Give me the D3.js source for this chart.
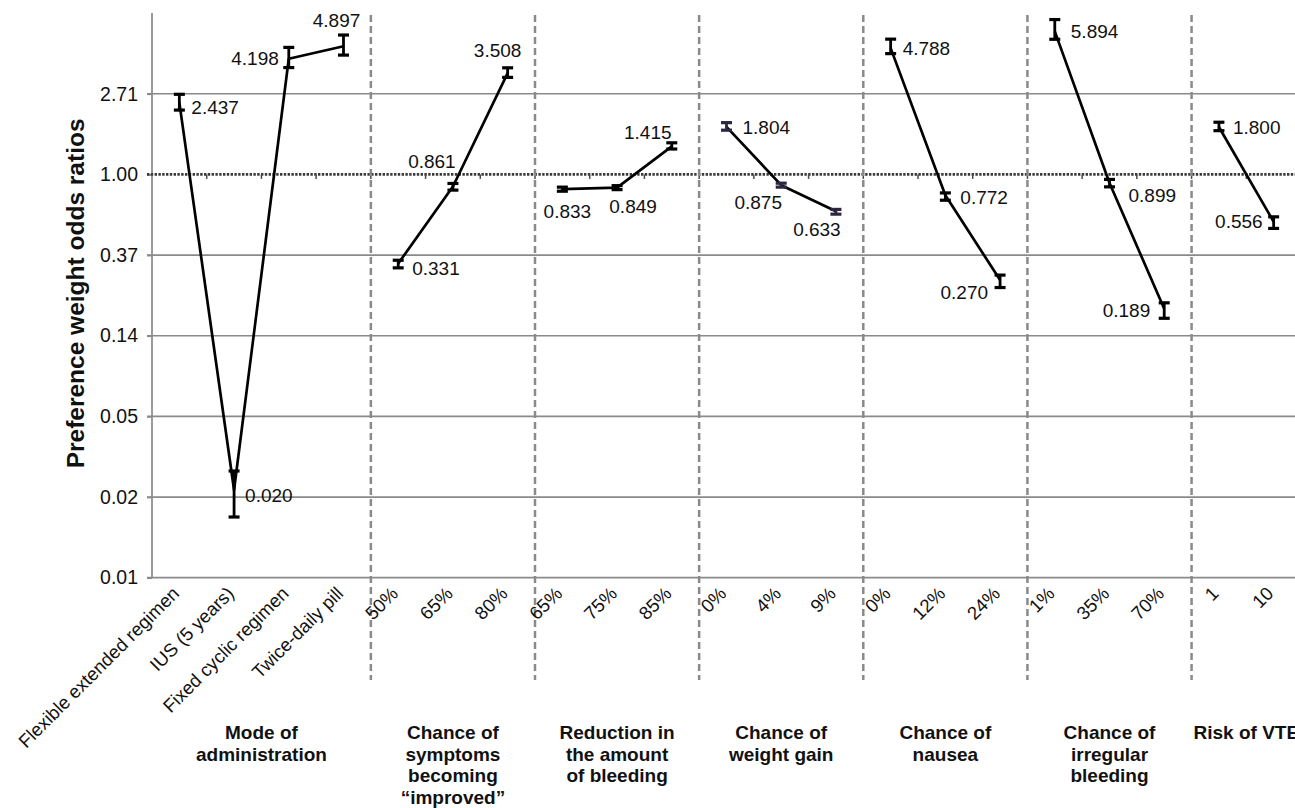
<!DOCTYPE html>
<html>
<head>
<meta charset="utf-8">
<script src="https://cdn.jsdelivr.net/npm/d3@7"></script>
<style>
  html, body { margin: 0; padding: 0; background: #fff; }
  svg { display: block; font-family: "Liberation Sans", Arial, sans-serif; }
</style>
</head>
<body>
<svg id="chart" width="1295" height="808"></svg>
<script>
// Attribute groups (titles drawn under the axis, one line per entry)
const groupTitles = [
  ["Mode of", "administration"],
  ["Chance of", "symptoms", "becoming", "\u201Cimproved\u201D"],
  ["Reduction in", "the amount", "of bleeding"],
  ["Chance of", "weight gain"],
  ["Chance of", "nausea"],
  ["Chance of", "irregular", "bleeding"],
  ["Risk of VTE"]
];

// Levels within each attribute
const levelLabels = [
  ["Flexible extended regimen", "IUS (5 years)", "Fixed cyclic regimen", "Twice-daily pill"],
  ["50%", "65%", "80%"],
  ["65%", "75%", "85%"],
  ["0%", "4%", "9%"],
  ["0%", "12%", "24%"],
  ["1%", "35%", "70%"],
  ["1", "10"]
];

// Preference weight odds ratios
const oddsRatios = [
  [2.437, 0.020, 4.198, 4.897],
  [0.331, 0.861, 3.508],
  [0.833, 0.849, 1.415],
  [1.804, 0.875, 0.633],
  [4.788, 0.772, 0.270],
  [5.894, 0.899, 0.189],
  [1.800, 0.556]
];

// Confidence interval bounds
const ciLower = [
  [2.22, 0.0143, 3.76, 4.39],
  [0.314, 0.823, 3.33],
  [0.812, 0.828, 1.37],
  [1.73, 0.854, 0.611],
  [4.47, 0.726, 0.246],
  [5.34, 0.857, 0.168],
  [1.72, 0.512]
];
const ciUpper = [
  [2.70, 0.0253, 4.83, 5.63],
  [0.345, 0.894, 3.75],
  [0.854, 0.870, 1.48],
  [1.90, 0.897, 0.648],
  [5.35, 0.795, 0.287],
  [6.82, 0.94, 0.2035],
  [1.91, 0.591]
];

// Y axis ticks (powers of e) and their printed labels
const yTickValues = [0.006738, 0.018316, 0.049787, 0.135335, 0.367879, 1, 2.718282];
const yTickLabels = ["0.01", "0.02", "0.05", "0.14", "0.37", "1.00", "2.71"];

// Value label placement around each point: [dx, dy, anchor]
const labelPlacement = [
  [[12, 5, "start"], [11, 5, "start"], [-10, 0, "end"], [-7, -26, "middle"]],
  [[14, 5, "start"], [-21, -25, "middle"], [-10, -23, "middle"]],
  [[5, 22, "middle"], [16, 19, "middle"], [-24, -14, "middle"]],
  [[16, 1, "start"], [-23, 17, "middle"], [-19, 18, "middle"]],
  [[12, 0, "start"], [15, 2, "start"], [-12, 12, "end"]],
  [[16, 0, "start"], [19, 12, "start"], [-14, 2, "end"]],
  [[14, 0, "start"], [-11, 0, "end"]]
];

const svg = d3.select("#chart");
const W = 1295;
const plotLeft = 152, plotRight = 1301, plotTop = 13.1, plotBottom = 577.7;

// Flatten levels into band keys
const points = [];
levelLabels.forEach((levels, g) => levels.forEach((lab, i) => {
  points.push({
    key: g + "-" + i, g, i, label: lab,
    v: oddsRatios[g][i], lo: ciLower[g][i], hi: ciUpper[g][i],
    place: labelPlacement[g][i]
  });
}));

const x = d3.scaleBand().domain(points.map(d => d.key)).range([plotLeft, plotRight]).padding(0);
const y = d3.scaleLog().domain([Math.exp(-5), Math.exp(2)]).range([plotBottom, plotTop]);
const cx = k => x(k) + x.bandwidth() / 2;

const gridColor = "#8a8a8a";

// Horizontal gridlines (solid), the 1.00 reference line is drawn dotted
svg.append("g").selectAll("line")
  .data(yTickValues.filter(v => v !== 1))
  .join("line")
  .attr("x1", plotLeft - 5).attr("x2", W)
  .attr("y1", d => y(d)).attr("y2", d => y(d))
  .attr("stroke", gridColor).attr("stroke-width", 1.7);

// Y axis with labels
const yAxis = d3.axisLeft(y)
  .tickValues(yTickValues)
  .tickFormat((d, i) => yTickLabels[i])
  .tickSize(5).tickPadding(9);
const gy = svg.append("g").attr("transform", `translate(${plotLeft},0)`).call(yAxis);
gy.select(".domain").attr("d", `M0,${plotTop}V${plotBottom}`).attr("stroke", gridColor).attr("stroke-width", 1.7);
gy.selectAll(".tick line").attr("stroke", gridColor).attr("stroke-width", 1.7);
gy.selectAll(".tick text").attr("font-size", 19.5).attr("fill", "#111")
  .attr("font-family", "'Liberation Sans', Arial, sans-serif");

// Category axis crossing at 1.00 (dotted, with ticks at band edges)
const y1 = y(1);
svg.append("line")
  .attr("x1", plotLeft - 5).attr("x2", W).attr("y1", y1).attr("y2", y1)
  .attr("stroke", "#3a3a3a").attr("stroke-width", 2.6).attr("stroke-dasharray", "2.4,1.4");
svg.append("g").selectAll("line")
  .data(points.slice(1).map(d => x(d.key)))
  .join("line")
  .attr("x1", d => d).attr("x2", d => d)
  .attr("y1", y1).attr("y2", y1 + 4.5)
  .attr("stroke", "#4a4a4a").attr("stroke-width", 1.5);

// Dashed separators between attribute groups
const sepX = levelLabels.slice(1).map((_, g) => x((g + 1) + "-0"));
svg.append("g").selectAll("line")
  .data(sepX)
  .join("line")
  .attr("x1", d => d).attr("x2", d => d)
  .attr("y1", 15).attr("y2", 680)
  .attr("stroke", gridColor).attr("stroke-width", 2.5).attr("stroke-dasharray", "7,4");

// Connecting lines per attribute
const line = d3.line().x(d => cx(d.key)).y(d => y(d.v));
svg.append("g").selectAll("path")
  .data(d3.groups(points, d => d.g).map(d => d[1]))
  .join("path")
  .attr("d", line)
  .attr("fill", "none").attr("stroke", "#000").attr("stroke-width", 2.7)
  .attr("stroke-linejoin", "round");

// Error bars
const eb = svg.append("g").selectAll("g").data(points).join("g")
  .attr("stroke", d => d.g === 3 ? "#2c2640" : "#000");
eb.append("line")
  .attr("x1", d => cx(d.key)).attr("x2", d => cx(d.key))
  .attr("y1", d => y(d.lo)).attr("y2", d => y(d.hi))
  .attr("stroke-width", 2.8);
eb.selectAll("line.cap").data(d => [[d, d.lo], [d, d.hi]]).join("line")
  .attr("class", "cap")
  .attr("x1", d => cx(d[0].key) - 5.5).attr("x2", d => cx(d[0].key) + 5.5)
  .attr("y1", d => y(d[1])).attr("y2", d => y(d[1]))
  .attr("stroke-width", 3.2);

// Value labels
svg.append("g").selectAll("text").data(points).join("text")
  .attr("x", d => cx(d.key) + d.place[0])
  .attr("y", d => y(d.v) + d.place[1])
  .attr("dy", "0.35em")
  .attr("text-anchor", d => d.place[2])
  .attr("font-size", 19).attr("fill", "#111")
  .text(d => d.v.toFixed(3));

// Level labels, rotated
svg.append("g").selectAll("text").data(points).join("text")
  .attr("transform", d => `translate(${cx(d.key) + 1},${plotBottom + 17}) rotate(-45)`)
  .attr("text-anchor", "end")
  .attr("font-size", 18.6).attr("fill", "#111")
  .text(d => d.label);

// Attribute titles
const gt = svg.append("g").selectAll("text").data(groupTitles).join("text")
  .attr("text-anchor", "middle")
  .attr("font-size", 19).attr("font-weight", "bold").attr("fill", "#111")
  .attr("transform", (d, g) => {
    const keys = levelLabels[g].map((_, i) => g + "-" + i);
    const x0 = x(keys[0]), x1 = x(keys[keys.length - 1]) + x.bandwidth();
    return `translate(${(x0 + x1) / 2},739)`;
  });
gt.selectAll("tspan").data(d => d).join("tspan")
  .attr("x", 0).attr("y", (d, i) => i * 21.6)
  .text(d => d);

// Y axis title
svg.append("text")
  .attr("transform", `translate(84,${(plotTop + plotBottom) / 2 - 2}) rotate(-90)`)
  .attr("text-anchor", "middle")
  .attr("font-size", 24.5).attr("font-weight", "bold").attr("fill", "#111")
  .text("Preference weight odds ratios");
</script>
</body>
</html>
